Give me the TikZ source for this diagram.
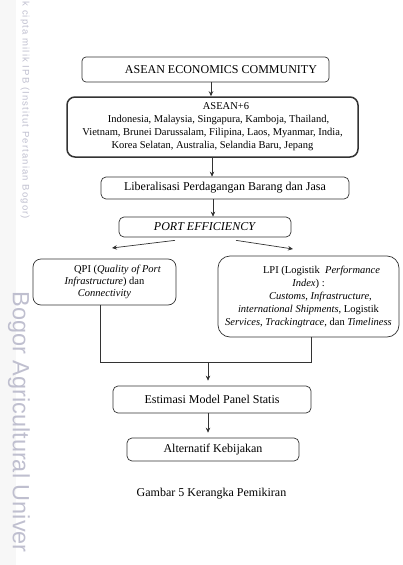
\documentclass[tikz,border=0pt]{standalone}
\usepackage{fontspec}
\setmainfont{Liberation Serif}
\newfontfamily\wmfont{Liberation Sans}
\newfontfamily\wmfontsp[LetterSpace=12]{Liberation Sans}
\usetikzlibrary{arrows.meta,calc}
\begin{document}
\begin{tikzpicture}[x=1pt,y=-1pt,
  box/.style={draw=black!80, line width=0.7pt, rounded corners=5pt, inner sep=0pt, align=center},
  conn/.style={draw=black!80, line width=0.7pt},
  arr/.style={conn, -{Stealth[length=5pt,width=4.5pt]}},
  txt/.style={font=\fontsize{12}{14}\selectfont},
  small/.style={font=\fontsize{10.5}{13}\selectfont}
]
\useasboundingbox (0,0) rectangle (402,565);
\fill[black!3] (0,0) rectangle (16,565);
% watermark
\node[rotate=-90, anchor=west, text=blue!25!black!25, font=\wmfontsp\fontsize{9.5}{11}\selectfont] (wm1) at (25,-2) {k cipta milik IPB (Institut Pertanian Bogor)};
\node[rotate=-90, anchor=west, text=blue!25!black!25, font=\wmfont\fontsize{23.5}{24}\selectfont] (wm2) at (19,288) {Bogor Agricultural Univer};

\node[box, rounded corners=4pt, minimum width=247pt, minimum height=25pt, txt] (aec) at (205.5,69.5) {\hspace*{31pt}ASEAN ECONOMICS COMMUNITY};
\node[box, line width=1.5pt, rounded corners=8pt, minimum width=291pt, minimum height=60pt, small] (asean) at (212.5,127) {\hspace*{27pt}ASEAN+6\\ \hspace*{12pt}Indonesia, Malaysia, Singapura, Kamboja, Thailand,\\ Vietnam, Brunei Darussalam, Filipina, Laos, Myanmar, India,\\ Korea Selatan, Australia, Selandia Baru, Jepang};
\node[box, minimum width=248pt, minimum height=22pt, txt] (lib) at (225,188) {Liberalisasi Perdagangan Barang dan Jasa};
\node[box, minimum width=172pt, minimum height=20pt, txt] (port) at (205,227) {\textit{PORT EFFICIENCY}};
\node[box, rounded corners=8pt, minimum width=143pt, minimum height=46pt, font=\fontsize{10.5}{12}\selectfont] (qpi) at (104.5,282) {\hspace*{26pt}QPI (\textit{Quality of Port}\\ \textit{Infrastructure}) dan\\ \textit{Connectivity}};
\node[box, rounded corners=12pt, minimum width=181pt, minimum height=81pt, small] (lpi) at (308.5,296.5) {\hspace*{26pt}LPI (Logistik \ \textit{Performance}\\ \textit{Index}) :\\ \hspace*{24pt}\textit{Customs}, \textit{Infrastructure},\\ \textit{international Shipments}, Logistik\\ \textit{Services}, \textit{Trackingtrace}, dan \textit{Timeliness}};
\node[box, minimum width=198pt, minimum height=27pt, txt] (est) at (212,399.5) {Estimasi Model Panel Statis};
\node[box, minimum width=172pt, minimum height=23pt, txt] (alt) at (213,449.5) {Alternatif Kebijakan};
\node[txt] (cap) at (211.5,494) {Gambar 5 Kerangka Pemikiran};

% connectors
\draw[arr] ([xshift=5.5pt]aec.south) -- ([xshift=5.5pt]aec.south |- asean.north);
\draw[arr] ([xshift=-0.5pt]asean.south) -- ([xshift=-0.5pt]asean.south |- lib.north);
\draw[arr] ([xshift=-12pt]lib.south) -- ([xshift=-12pt]lib.south |- port.north);
\coordinate (pl) at (112,248);
\coordinate (pr) at (293,249);
\draw[arr] ([xshift=-30pt,yshift=-3pt]port.south) -- (pl);
\draw[arr] ([xshift=31pt,yshift=-3pt]port.south) -- (pr);
\coordinate (jl) at (100,362);
\coordinate (jr) at (311,362);
\coordinate (jm) at (208,362);
\draw[conn] (qpi.south -| jl) -- (jl) -- (jr) -- (lpi.south -| jr);
\draw[arr, shorten >=5pt] (jm) -- (jm |- est.north);
\draw[arr, shorten >=5pt] (est.south -| jm) -- (jm |- alt.north);
\end{tikzpicture}
\end{document}
